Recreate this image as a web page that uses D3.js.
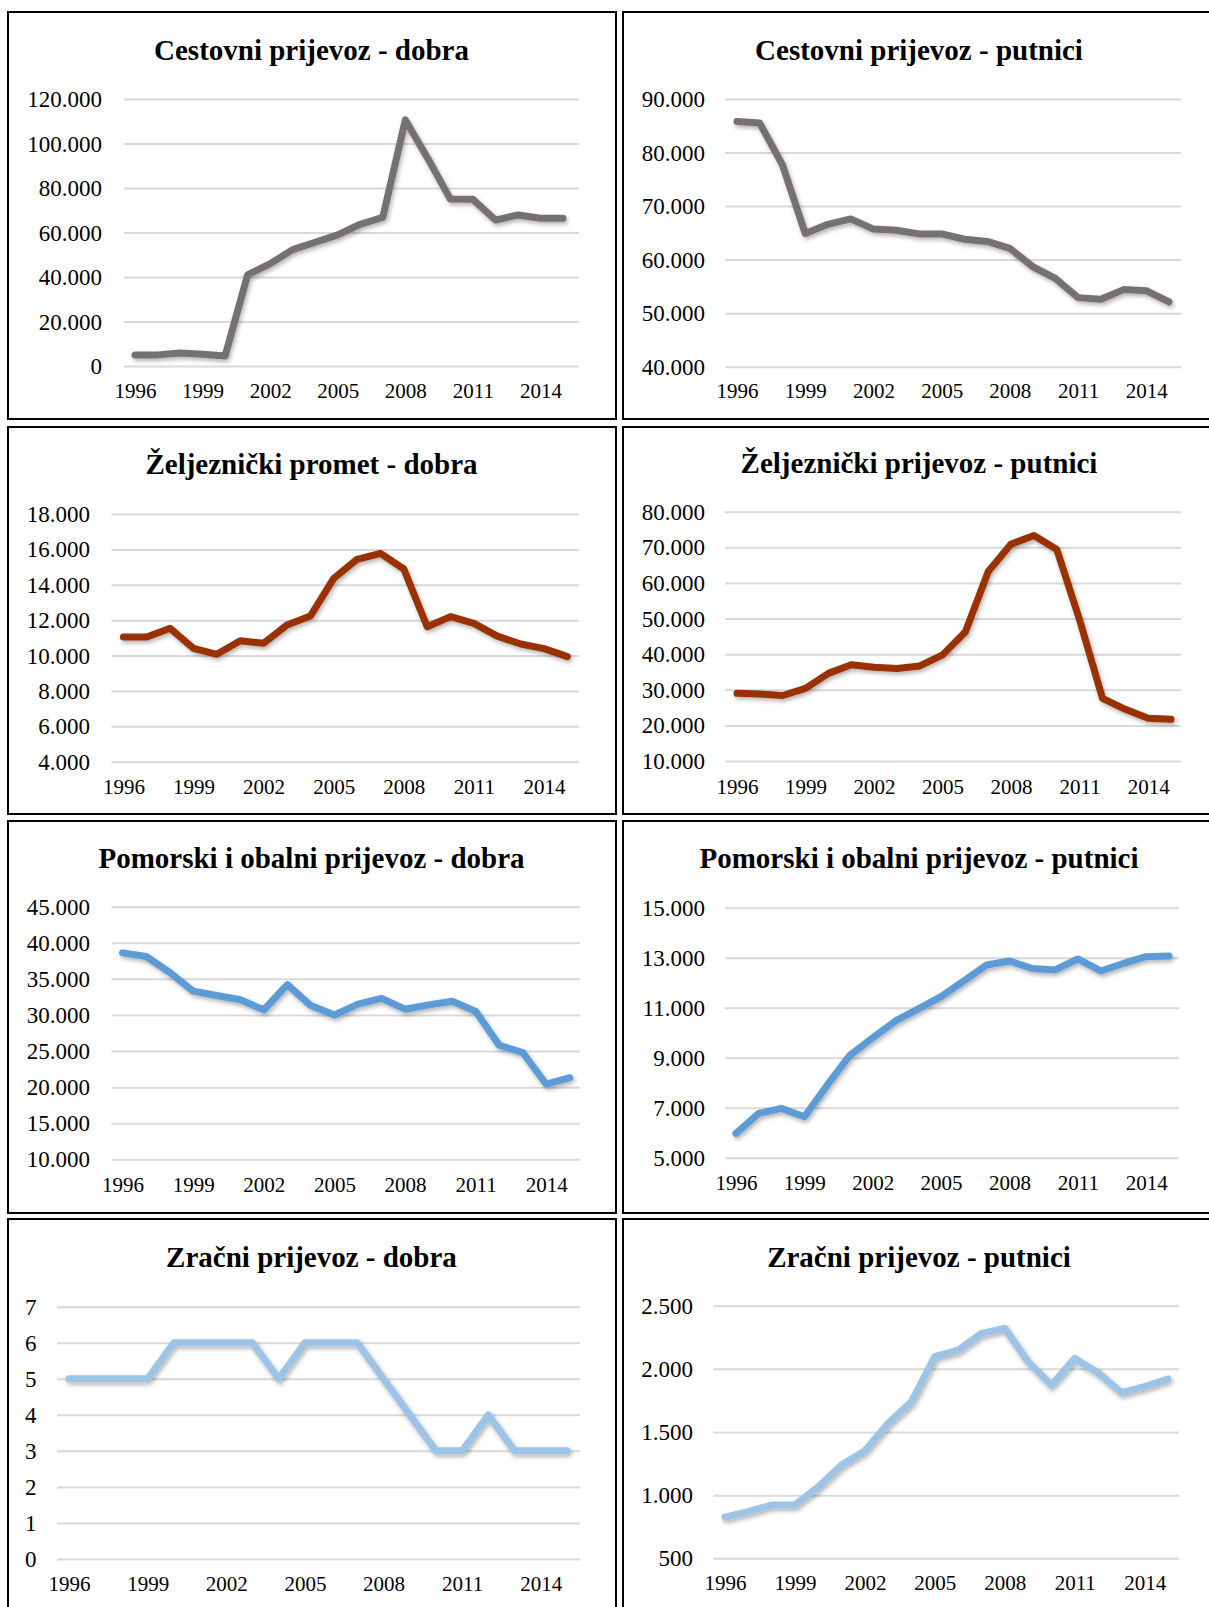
<!DOCTYPE html>
<html>
<head>
<meta charset="utf-8">
<script src="https://cdn.jsdelivr.net/npm/d3@7"></script>
<style>
  html, body { margin: 0; padding: 0; background: #fff; }
  svg { display: block; }
</style>
</head>
<body>
<svg id="chart" width="1209" height="1607"></svg>
<script>
// ---------- DATA ----------
const years = [1996, 1997, 1998, 1999, 2000, 2001, 2002, 2003, 2004, 2005,
               2006, 2007, 2008, 2009, 2010, 2011, 2012, 2013, 2014, 2015];
const yearTicks = [1996, 1999, 2002, 2005, 2008, 2011, 2014];

const roadGoods = [5000, 5000, 5800, 5300, 4500, 41000, 46000, 52300, 55600, 58900,
                   63700, 66800, 110600, 93300, 75000, 74900, 65600, 67900, 66400, 66400];
const roadPassengers = [85800, 85500, 77700, 64900, 66600, 67600, 65700, 65500, 64800, 64800,
                        63800, 63400, 62100, 58700, 56500, 52900, 52600, 54400, 54200, 52100];
const railGoods = [11050, 11050, 11540, 10400, 10070, 10840, 10690, 11730, 12230, 14360,
                   15440, 15780, 14890, 11630, 12200, 11820, 11100, 10650, 10390, 9940];
const railPassengers = [29000, 28800, 28400, 30400, 34600, 37000, 36300, 36000, 36700, 39800,
                        46300, 63200, 70900, 73300, 69400, 49600, 27600, 24500, 22000, 21700];
const seaGoods = [38600, 38100, 35900, 33300, 32700, 32100, 30700, 34200, 31300, 30000,
                  31500, 32300, 30800, 31400, 31900, 30500, 25800, 24800, 20400, 21300];
const seaPassengers = [5970, 6770, 6970, 6640, 7900, 9100, 9800, 10470, 10950, 11440,
                       12070, 12710, 12870, 12570, 12510, 12950, 12470, 12770, 13040, 13070];
const airGoods = [5, 5, 5, 5, 6, 6, 6, 6, 5, 6, 6, 6, 5, 4, 3, 3, 4, 3, 3, 3];
const airPassengers = [825, 869, 922, 922, 1067, 1239, 1352, 1569, 1740, 2096,
                       2149, 2281, 2321, 2057, 1872, 2083, 1970, 1811, 1859, 1920];

const titles = [
  "Cestovni prijevoz - dobra", "Cestovni prijevoz - putnici",
  "Željeznički promet - dobra", "Željeznički prijevoz - putnici",
  "Pomorski i obalni prijevoz - dobra", "Pomorski i obalni prijevoz - putnici",
  "Zračni prijevoz - dobra", "Zračni prijevoz - putnici"
];
const seriesList = [roadGoods, roadPassengers, railGoods, railPassengers,
                    seaGoods, seaPassengers, airGoods, airPassengers];
const yTicksList = [
  [0, 20000, 40000, 60000, 80000, 100000, 120000],
  [40000, 50000, 60000, 70000, 80000, 90000],
  [4000, 6000, 8000, 10000, 12000, 14000, 16000, 18000],
  [10000, 20000, 30000, 40000, 50000, 60000, 70000, 80000],
  [10000, 15000, 20000, 25000, 30000, 35000, 40000, 45000],
  [5000, 7000, 9000, 11000, 13000, 15000],
  [0, 1, 2, 3, 4, 5, 6, 7],
  [500, 1000, 1500, 2000, 2500]
];
const colors = ["#767171", "#767171", "#993300", "#993300",
                "#5B9BD5", "#5B9BD5", "#9DC3E6", "#9DC3E6"];

// ---------- LAYOUT ----------
const layouts = [
  {box:[8,12,608,407],   tx:311.5, ty:60,   le:102, g0:124,   g1:579, p0:135,   p1:563,   yb:366,    yt:99,    xl:391},
  {box:[623,12,620,407], tx:919,   ty:60,   le:705, g0:725,   g1:1181, p0:737,  p1:1169,  yb:366.7,  yt:99,    xl:391},
  {box:[8,427,608,387],  tx:311.5, ty:474,  le:90,  g0:111.5, g1:579, p0:123.4, p1:567.4, yb:761.7,  yt:514,   xl:787},
  {box:[623,427,620,387],tx:919,   ty:473,  le:705, g0:725,   g1:1181, p0:737,  p1:1171,  yb:761,    yt:511.7, xl:787},
  {box:[8,821,608,392],  tx:311.5, ty:868,  le:90,  g0:111.5, g1:580, p0:122.6, p1:569.8, yb:1159.3, yt:906.7, xl:1185},
  {box:[623,821,620,392],tx:919,   ty:868,  le:705, g0:725,   g1:1179, p0:736,  p1:1169,  yb:1157.7, yt:907.7, xl:1183},
  {box:[8,1219,608,420], tx:311.5, ty:1267, le:36.4,g0:57,    g1:580, p0:69,    p1:567,   yb:1559,   yt:1306.7,xl:1584},
  {box:[623,1219,620,420],tx:919,  ty:1267, le:693, g0:713.5, g1:1179, p0:725,  p1:1168,  yb:1558.3, yt:1305.7,xl:1583}
];

const locale = d3.formatLocale({decimal: ",", thousands: ".", grouping: [3], currency: ["", ""]});
const fmt = locale.format(",");

const svg = d3.select("#chart");
const defs = svg.append("defs");
const f = defs.append("filter").attr("id", "shadow")
  .attr("x", "-10%").attr("y", "-10%").attr("width", "120%").attr("height", "130%");
f.append("feDropShadow").attr("dx", 1.5).attr("dy", 2.5).attr("stdDeviation", 2)
  .attr("flood-color", "#000").attr("flood-opacity", 0.3);

const serif = "'Liberation Serif', 'Times New Roman', Times, serif";

layouts.forEach((L, i) => {
  const g = svg.append("g");
  g.append("rect")
    .attr("x", L.box[0]).attr("y", L.box[1]).attr("width", L.box[2]).attr("height", L.box[3])
    .attr("fill", "#fff").attr("stroke", "#000").attr("stroke-width", 2);

  g.append("text")
    .attr("x", L.tx).attr("y", L.ty)
    .attr("text-anchor", "middle")
    .style("font-family", serif).style("font-weight", "bold").style("font-size", "29px")
    .attr("fill", "#000")
    .text(titles[i]);

  const ticks = yTicksList[i];
  const y = d3.scaleLinear().domain([ticks[0], ticks[ticks.length - 1]]).range([L.yb, L.yt]);
  const x = d3.scalePoint().domain(years).range([L.p0, L.p1]);

  // y axis with gridlines
  const yAxis = d3.axisLeft(y).tickValues(ticks).tickFormat(fmt)
    .tickSize(-(L.g1 - L.g0)).tickPadding(L.g0 - L.le);
  const ya = g.append("g").attr("transform", `translate(${L.g0},0)`).call(yAxis);
  ya.select(".domain").remove();
  ya.selectAll(".tick line").attr("stroke", "#d9d9d9").attr("stroke-width", 2);
  ya.selectAll(".tick text")
    .style("font-family", serif).style("font-size", "23px").attr("fill", "#000").attr("dy", "0.33em");

  // x axis labels
  const xAxis = d3.axisBottom(x).tickValues(yearTicks).tickFormat(d3.format("d")).tickSize(0).tickPadding(0);
  const xa = g.append("g").attr("transform", `translate(0,${L.xl})`).call(xAxis);
  xa.select(".domain").remove();
  xa.selectAll(".tick text")
    .attr("y", 0).attr("dy", "0.35em")
    .style("font-family", serif).style("font-size", "21px").attr("fill", "#000");

  // line
  const line = d3.line().x((d, j) => x(years[j])).y(d => y(d));
  g.append("path")
    .datum(seriesList[i])
    .attr("d", line)
    .attr("fill", "none")
    .attr("stroke", colors[i])
    .attr("stroke-width", 7)
    .attr("stroke-linejoin", "round")
    .attr("stroke-linecap", "round")
    .attr("filter", "url(#shadow)");
});
</script>
</body>
</html>
